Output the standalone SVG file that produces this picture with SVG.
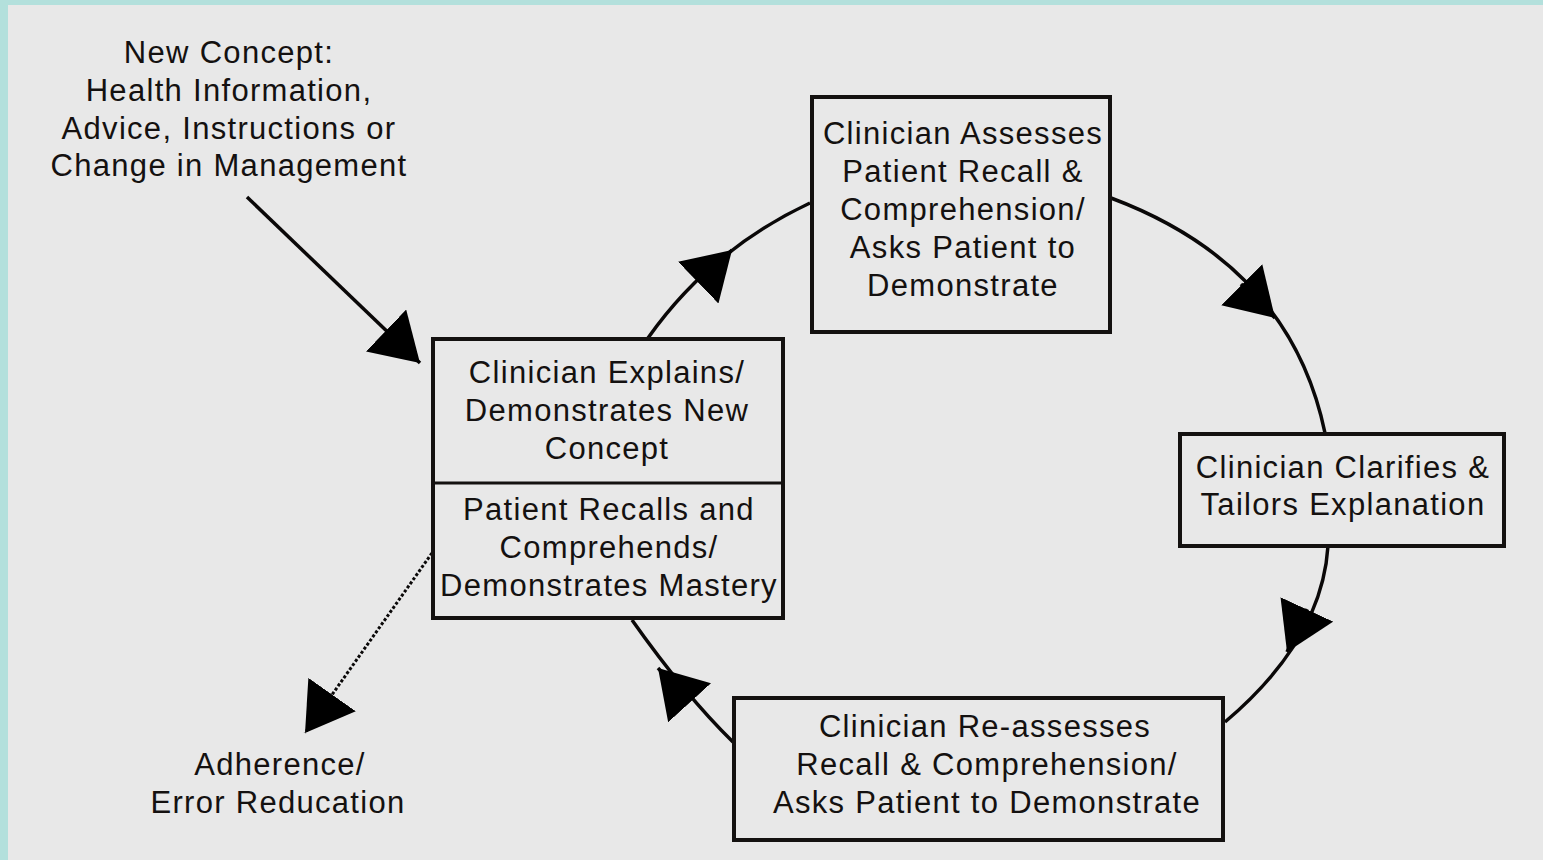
<svg xmlns="http://www.w3.org/2000/svg" width="1543" height="860" viewBox="0 0 1543 860">
  <style>
    .t { font-family: "Liberation Sans", Arial, sans-serif; font-size: 31px; letter-spacing: 1.3px; fill: #141110; text-anchor: middle; }
    .box { fill: none; stroke: #141110; stroke-width: 4; }
    .conn { fill: none; stroke: #0a0808; stroke-width: 3.5; }
    .dot { fill: none; stroke: #0a0808; stroke-width: 3; stroke-dasharray: 3 2; }
  </style>
  <defs>
    <marker id="ah" viewBox="0 0 47 58" refX="47" refY="29" markerWidth="47" markerHeight="58" markerUnits="userSpaceOnUse" orient="auto">
      <path d="M0,0 L47,29 L0,58 Z" fill="#000"/>
    </marker>
  </defs>
  <rect x="0" y="0" width="1543" height="860" fill="#e8e8e8"/>
  <rect x="0" y="0" width="1543" height="5" fill="#b3e0dc"/>
  <rect x="0" y="0" width="8" height="860" fill="#b3e0dc"/>

  <g id="connectors">
    <line class="conn" x1="247" y1="197" x2="420" y2="363" marker-end="url(#ah)"/>
    <path class="conn" d="M648,338 Q710,250 810,203"/>
    <path class="conn" d="M700,281 L732,250" marker-end="url(#ah)"/>
    <path class="conn" d="M1111,198 Q1290,265 1325,433"/>
    <path class="conn" d="M1241,284 L1275,318" marker-end="url(#ah)"/>
    <path class="conn" d="M1328,546 Q1322,640 1225,722"/>
    <path class="conn" d="M1307,609 L1287,652" marker-end="url(#ah)"/>
    <path class="conn" d="M733,742 Q685,695 632,620"/>
    <path class="conn" d="M688,701 L658,668" marker-end="url(#ah)"/>
    <line class="dot" x1="432" y1="553" x2="305" y2="733" marker-end="url(#ah)"/>
  </g>

  <g id="new-concept">
    <text class="t" x="229" y="63">New Concept:</text>
    <text class="t" x="229" y="101">Health Information,</text>
    <text class="t" x="229" y="139">Advice, Instructions or</text>
    <text class="t" x="229" y="176">Change in Management</text>
  </g>

  <g id="explains">
    <rect class="box" x="433" y="339" width="350" height="279"/>
    <line x1="433" y1="483" x2="783" y2="483" stroke="#141110" stroke-width="3"/>
    <text class="t" x="607" y="383">Clinician Explains/</text>
    <text class="t" x="607" y="421">Demonstrates New</text>
    <text class="t" x="607" y="459">Concept</text>
    <text class="t" x="609" y="520">Patient Recalls and</text>
    <text class="t" x="609" y="558">Comprehends/</text>
    <text class="t" x="609" y="596">Demonstrates Mastery</text>
  </g>

  <g id="assesses">
    <rect class="box" x="812" y="97" width="298" height="235"/>
    <text class="t" x="963" y="144">Clinician Assesses</text>
    <text class="t" x="963" y="182">Patient Recall &amp;</text>
    <text class="t" x="963" y="220">Comprehension/</text>
    <text class="t" x="963" y="258">Asks Patient to</text>
    <text class="t" x="963" y="296">Demonstrate</text>
  </g>

  <g id="clarifies">
    <rect class="box" x="1180" y="434" width="324" height="112"/>
    <text class="t" x="1343" y="478">Clinician Clarifies &amp;</text>
    <text class="t" x="1343" y="515">Tailors Explanation</text>
  </g>

  <g id="reassesses">
    <rect class="box" x="734" y="698" width="489" height="142"/>
    <text class="t" x="985" y="737">Clinician Re-assesses</text>
    <text class="t" x="987" y="775">Recall &amp; Comprehension/</text>
    <text class="t" x="987" y="813">Asks Patient to Demonstrate</text>
  </g>

  <g id="adherence">
    <text class="t" x="280" y="775">Adherence/</text>
    <text class="t" x="278" y="813">Error Reducation</text>
  </g>
</svg>
